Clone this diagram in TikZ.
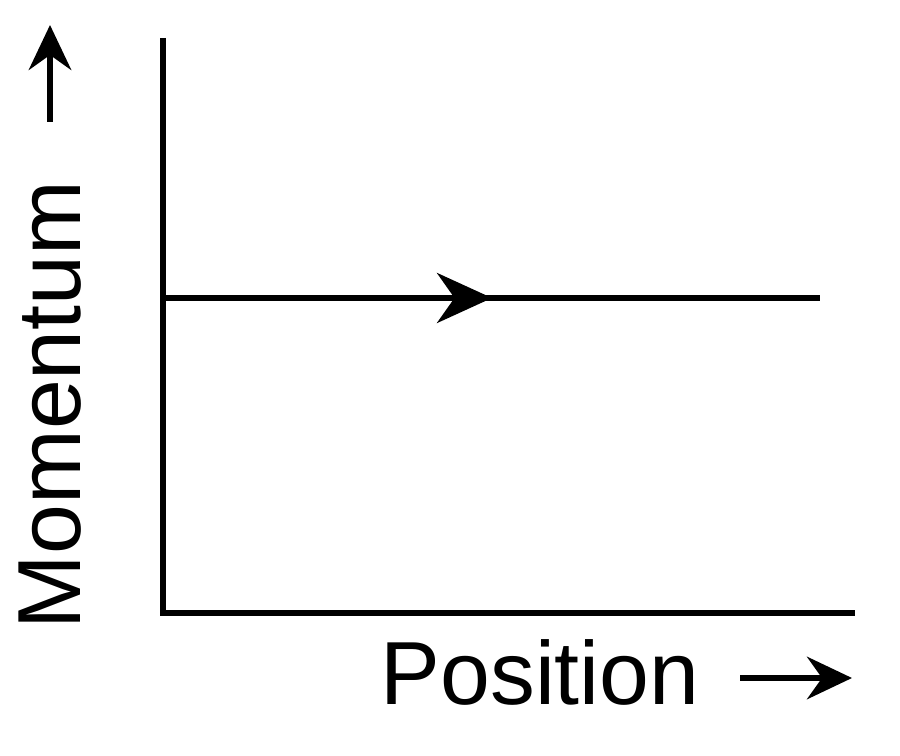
\documentclass[tikz,border=0pt]{standalone}
\usepackage{fontspec}
\setmainfont{Liberation Sans}
\usetikzlibrary{arrows.meta}
\tikzset{axis/.style={line width=3pt,black},
  label/.style={font=\fontsize{51}{60}\selectfont,inner sep=0pt},
  arrowR/.style={line width=3pt,-{Stealth[length=1.1cm,width=1cm,inset=0.35cm]}}}
\begin{document}
\begin{tikzpicture}[x=0.02cm,y=-0.02cm]
  \useasboundingbox (0,0) rectangle (900,756);
  % axes
  \coordinate (top) at (163,38);
  \coordinate (origin) at (163,613);
  \coordinate (right) at (855,613);
  \draw [axis] (top) -- (origin) -- (right);
  % trajectory
  \coordinate (start) at (165,298);
  \coordinate (mid) at (492,298);
  \coordinate (end) at (820,298);
  \draw [axis] (start) -- (end);
  \draw [arrowR] (start) -- (mid);
  % labels
  \node (mom) [label, rotate=90] at (50,405) {Momentum};
  \node (pos) [label] at (540,672) {Position};
  \coordinate (momA) at (50,122);
  \coordinate (momB) at (50,25);
  \draw [arrowR, -{Stealth[length=0.9cm,width=0.85cm,inset=0.3cm]}] (momA) -- (momB);
  \coordinate (posA) at (740,678);
  \coordinate (posB) at (852,678);
  \draw [arrowR, -{Stealth[length=0.9cm,width=0.85cm,inset=0.3cm]}] (posA) -- (posB);
\end{tikzpicture}
\end{document}
